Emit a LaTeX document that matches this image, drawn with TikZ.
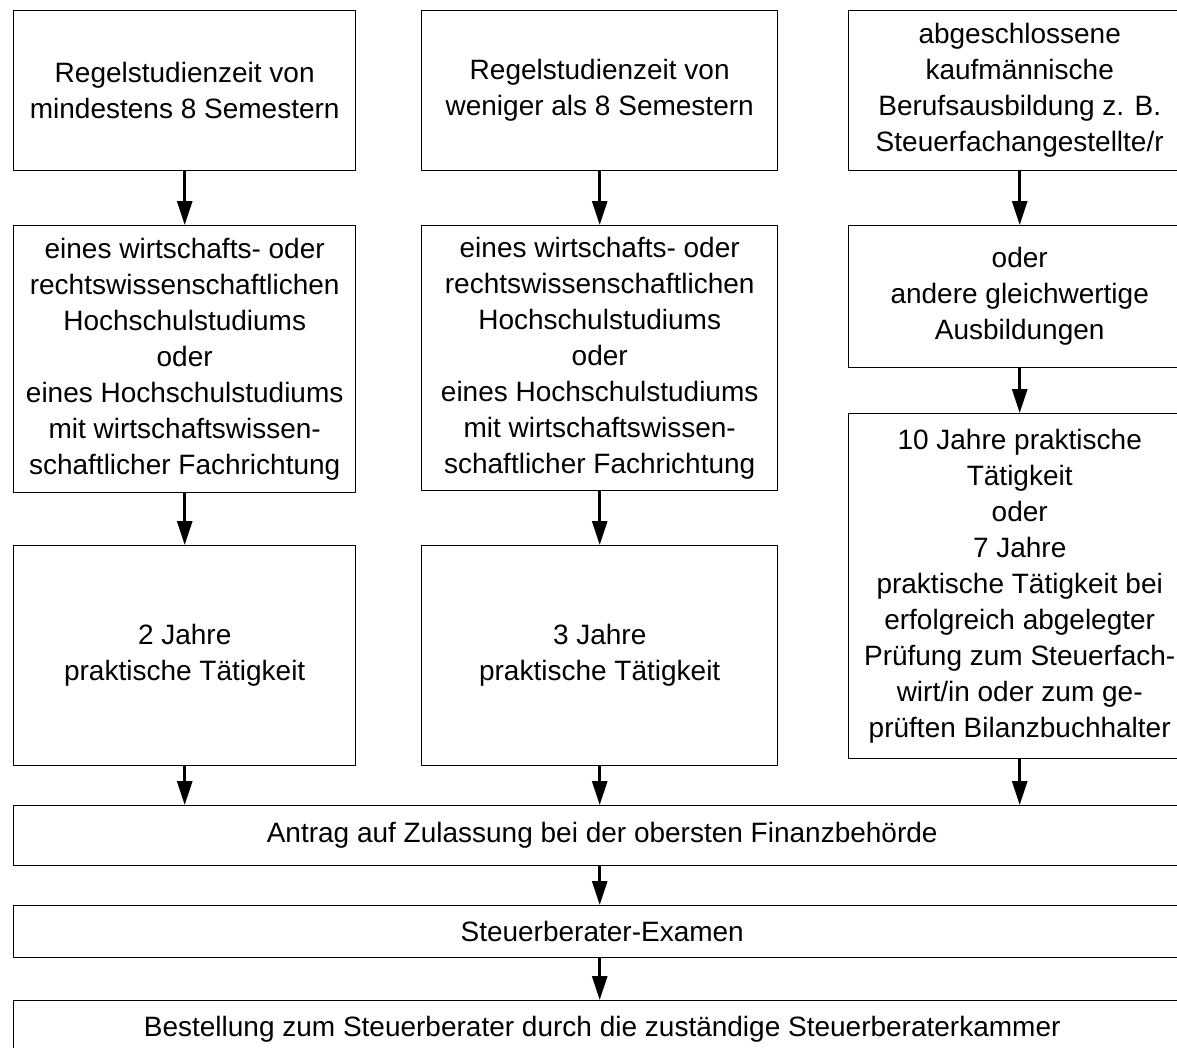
\documentclass[tikz,border=0pt]{standalone}
\usepackage{fontspec}
\setmainfont{Liberation Sans}
\usetikzlibrary{arrows.meta}
\begin{document}
\begin{tikzpicture}[x=1pt,y=-1pt,>={Triangle[length=24pt,width=15pt]},line join=round,
	font=\fontsize{28}{36}\selectfont,
	box/.style={draw,line width=1.4pt,anchor=north west,align=center,inner sep=0pt},
	pfeil/.style={->,line width=3pt}]
	\useasboundingbox (0,0) rectangle (1177,1047);
	\clip (0,0) rectangle (1177,1047);
	% linke Spalte
	\node[box,minimum width=342pt,minimum height=160pt] (l1) at (13,10) {Regelstudienzeit von\\mindestens 8 Semestern};
	\node[box,minimum width=342pt,minimum height=267pt] (l2) at (13,225) {eines wirtschafts- oder\\rechtswissenschaftlichen\\Hochschulstudiums\\oder\\eines Hochschulstudiums\\mit wirtschaftswissen-\\schaftlicher Fachrichtung};
	\node[box,minimum width=342pt,minimum height=220pt] (l3) at (13,545) {2 Jahre\\praktische Tätigkeit};
	% mittlere Spalte
	\node[box,minimum width=356pt,minimum height=160pt] (m1) at (421,10) {Regelstudienzeit von\\weniger als 8 Semestern};
	\node[box,minimum width=356pt,minimum height=265pt] (m2) at (421,225) {eines wirtschafts- oder\\rechtswissenschaftlichen\\Hochschulstudiums\\oder\\eines Hochschulstudiums\\mit wirtschaftswissen-\\schaftlicher Fachrichtung};
	\node[box,minimum width=356pt,minimum height=220pt] (m3) at (421,545) {3 Jahre\\praktische Tätigkeit};
	% rechte Spalte
	\node[box,minimum width=342pt,minimum height=160pt] (r1) at (848,10) {abgeschlossene\\kaufmännische\\Berufsausbildung z. B.\\Steuerfachangestellte/r};
	\node[box,minimum width=342pt,minimum height=142pt] (r2) at (848,225) {oder\\andere gleichwertige\\Ausbildungen};
	\node[box,minimum width=342pt,minimum height=345pt] (r3) at (848,413) {10 Jahre praktische\\Tätigkeit\\oder\\7 Jahre\\praktische Tätigkeit bei\\erfolgreich abgelegter\\Prüfung zum Steuerfach-\\wirt/in oder zum ge-\\prüften Bilanzbuchhalter};
	% gemeinsamer Weg
	\node[box,minimum width=1177pt,minimum height=60pt] (antrag) at (13,805) {Antrag auf Zulassung bei der obersten Finanzbehörde};
	\node[box,minimum width=1177pt,minimum height=52pt] (examen) at (13,905) {Steuerberater-Examen};
	\node[box,minimum width=1177pt,minimum height=58pt] (bestellung) at (13,1000) {Bestellung zum Steuerberater durch die zuständige Steuerberaterkammer};
	\draw[pfeil] (l1) -- (l2);
	\draw[pfeil] (l2) -- (l3);
	\draw[pfeil] (m1) -- (m2);
	\draw[pfeil] (m2) -- (m3);
	\draw[pfeil] (r1) -- (r2);
	\draw[pfeil] (r2) -- (r3);
	\draw[pfeil] (l3.south) -- (l3.south |- antrag.north);
	\draw[pfeil] (m3.south) -- (m3.south |- antrag.north);
	\draw[pfeil] (r3.south) -- (r3.south |- antrag.north);
	\draw[pfeil] (antrag.south -| m3.south) -- (examen.north -| m3.south);
	\draw[pfeil] (examen.south -| m3.south) -- (bestellung.north -| m3.south);
\end{tikzpicture}
\end{document}
